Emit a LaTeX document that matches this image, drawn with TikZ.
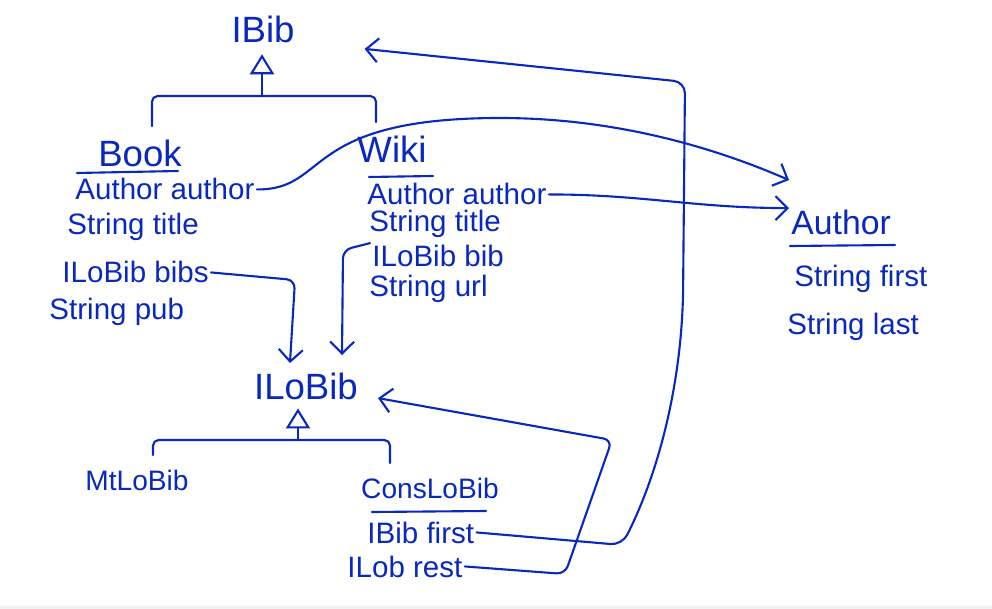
\documentclass[tikz,border=0pt]{standalone}
\usepackage{fontspec}
\setmainfont{Liberation Sans}
\usetikzlibrary{arrows.meta}
\definecolor{ink}{RGB}{8,40,190}
\tikzset{
	cls/.style={font=\fontsize{26}{30}\selectfont, inner sep=1pt, anchor=base},
	sub/.style={font=\fontsize{20}{24}\selectfont, inner sep=1pt, anchor=base},
	fld/.style={font=\fontsize{21}{25}\selectfont, inner sep=1pt, anchor=base west},
	isa/.style={-{Triangle[open, length=5mm, width=6mm]}},
}
\begin{document}
\begin{tikzpicture}[x=0.025cm, y=-0.025cm, line join=round, line cap=round, line width=1.5pt, ink, >={Straight Barb[length=3mm, width=6mm]}]
	%Canvas
	\useasboundingbox (0,0) rectangle (992,609);
	\fill[gray!10] (0,606) rectangle (992,609);
	%Class names
	\node[cls] (ibib) at (263,43) {IBib};
	\node[cls] (book) at (140,167) {Book};
	\node[cls] (wiki) at (392,163) {Wiki};
	\node[cls] (ilobib) at (306,400) {ILoBib};
	\node[sub] (mtlobib) at (137,490) {MtLoBib};
	\node[sub] (conslobib) at (430,498) {ConsLoBib};
	\node[cls, anchor=base west, font=\fontsize{24}{28}\selectfont] (author) at (789,235) {Author};
	%Rules under the names
	\draw (77,173) -- (178,171);
	\draw (369,177) -- (433,176);
	\draw (372,512) -- (486,511);
	\draw (790,246) -- (895,245);
	%Fields
	\foreach \n/\x/\y/\t in {bookauthor/73/200/Author author, booktitle/65/235/String title,
		bookbibs/60/283/ILoBib bibs, bookpub/47/320/String pub,
		wikiauthor/365/205/Author author, wikititle/367/232/String title,
		wikibib/370/267/ILoBib bib, wikiurl/367/297/String url,
		consfirst/365/543/IBib first, consrest/345/577/ILob rest,
		authorfirst/792/287/String first, authorlast/785/335/String last}
	\node[fld] (\n) at (\x,\y) {\t};
	%Inheritance
	\coordinate (ibibbar) at (262,96);
	\draw[rounded corners=4pt] ([xshift=3mm, yshift=3mm]book.north) |- (ibibbar) -| ([xshift=-4mm, yshift=3mm]wiki.north);
	\draw[isa, shorten >=6pt] (ibibbar) -- (ibibbar |- ibib.south);
	\coordinate (ilobar) at (298,440);
	\draw[rounded corners=4pt] ([xshift=4mm, yshift=3mm]mtlobib.north) |- (ilobar) -| ([xshift=-1cm, yshift=3mm]conslobib.north);
	\draw[isa, shorten >=4pt] (ilobar) -- (ilobar |- ilobib.south);
	%Fields pointing to classes
	\draw[->] (bookauthor.east) .. controls (330,190) and (300,118) .. (500,118) .. controls (620,118) and (720,150) .. ([yshift=7mm]author.north west);
	\draw[->] (wikiauthor.east) to[out=0, in=180] (author.north west);
	\draw[->, rounded corners=6pt] (bookbibs.east) -- (295,280) -- ([xshift=-4mm, yshift=2mm]ilobib.north);
	\draw[->, rounded corners=6pt] (wikibib.north west) -- (343,250) -- ([xshift=9mm, yshift=4mm]ilobib.north);
	\draw[->, rounded corners=8pt, shorten >=1.7cm] (consfirst.east) -- (622,545) .. controls (655,480) and (678,400) .. (683,300) -- (685,82) -- ([yshift=-3mm]ibib.east);
	\draw[->, rounded corners=6pt, shorten >=4.5mm] (consrest.east) -- (565,574) -- (612,440) -- ([yshift=-2mm]ilobib.east);
\end{tikzpicture}
\end{document}
